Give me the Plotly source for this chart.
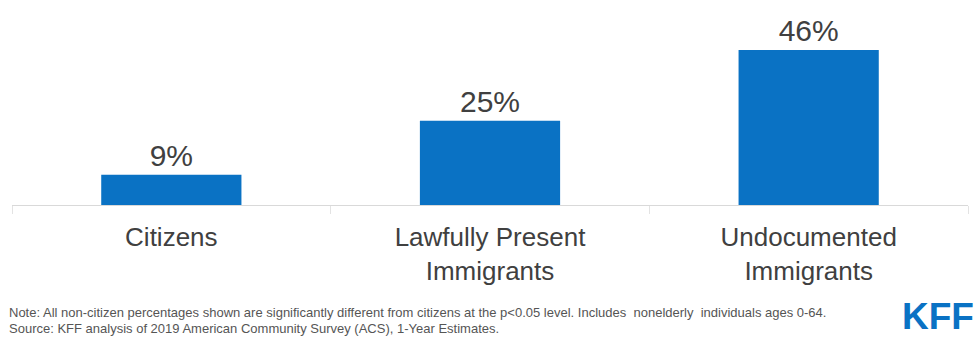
import plotly.graph_objects as go

categories = ["Citizens", "Lawfully Present<br>Immigrants", "Undocumented<br>Immigrants"]
values = [9, 25, 46]
value_labels = ["9%", "25%", "46%"]
note_line1 = "Note: All non-citizen percentages shown are significantly different from citizens at the p<0.05 level. Includes  nonelderly  individuals ages 0-64."
note_line2 = "Source: KFF analysis of 2019 American Community Survey (ACS), 1-Year Estimates."

BLUE = "#0A72C4"
TEXT = "#404040"

fig = go.Figure()
fig.add_trace(go.Bar(
    x=categories, y=values, text=value_labels,
    textposition="outside", cliponaxis=False,
    textfont=dict(size=30, color=TEXT, family="Liberation Sans, Arial, sans-serif"),
    marker=dict(color=BLUE, line=dict(width=0)),
    hoverinfo="skip",
))

W, H = 974, 337
mt, mb = 30, 132
plot_h = H - mt - mb

def py(p):
    return (H - mb - p) / plot_h

fig.update_layout(
    width=W, height=H,
    margin=dict(l=12, r=6, t=mt, b=mb),
    paper_bgcolor="white", plot_bgcolor="white",
    bargap=0.56,
    showlegend=False,
    font=dict(family="Liberation Sans, Arial, sans-serif", color=TEXT),
    xaxis=dict(
        showline=True, linecolor="#d9d9d9", linewidth=1,
        ticks="outside", tickson="boundaries", ticklen=8, tickcolor="#e3e3e3",
        tickfont=dict(size=26, color=TEXT), ticklabelstandoff=9,
        showgrid=False, zeroline=False,
    ),
    yaxis=dict(range=[0, 51.9], visible=False, showgrid=False, zeroline=False),
    annotations=[
        dict(text=note_line1, xref="paper", yref="paper", x=-0.005, y=py(312),
             xanchor="left", yanchor="middle", showarrow=False,
             font=dict(size=13, color="#555555", family="Liberation Sans, Arial, sans-serif")),
        dict(text=note_line2, xref="paper", yref="paper", x=-0.005, y=py(328),
             xanchor="left", yanchor="middle", showarrow=False,
             font=dict(size=13, color="#555555", family="Liberation Sans, Arial, sans-serif")),
        dict(text="<b>KFF</b>", xref="paper", yref="paper", x=1.008, y=py(316),
             xanchor="right", yanchor="middle", showarrow=False,
             font=dict(size=37, color=BLUE, family="Liberation Sans, Arial, sans-serif")),
    ],
)

fig.write_html("out.html", config={"displayModeBar": False},
               post_script="document.body.style.margin='0';")
